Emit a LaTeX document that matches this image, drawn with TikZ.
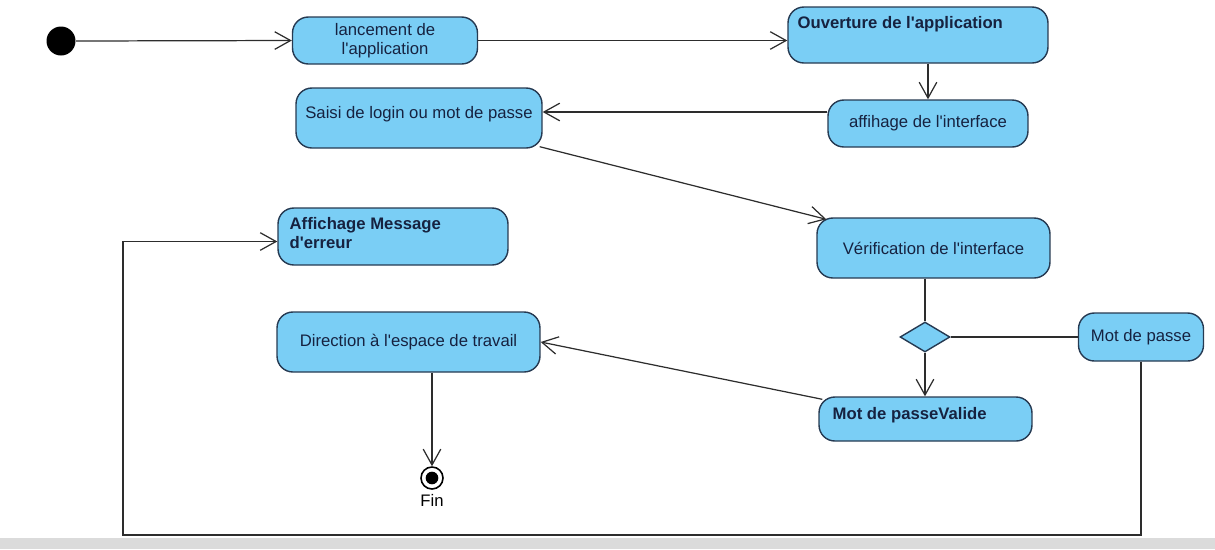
\documentclass[tikz,border=0pt]{standalone}
\usepackage{fontspec}
\setmainfont{Liberation Sans}
\usetikzlibrary{arrows.meta, positioning, calc, shapes.geometric}
\definecolor{boxblue}{RGB}{122,206,245}
\definecolor{boxline}{RGB}{38,58,82}
\definecolor{boxtext}{RGB}{22,34,64}
\definecolor{flowline}{RGB}{45,45,45}
\newcommand{\apos}{\textquotesingle}

\begin{document}
\begin{tikzpicture}[x=0.02cm, y=-0.02cm,
  actbox/.style={draw=boxline, fill=boxblue, line width=0.8pt, rounded corners=9pt, align=center, text=boxtext, font=\fontsize{9.5}{10.5}\selectfont, inner sep=0pt},
  boxtitle/.style={anchor=north west, inner sep=0pt, align=left, text=boxtext, font=\fontsize{9.5}{10.5}\selectfont\bfseries},
  flow/.style={draw=flowline, line width=0.7pt, -{Straight Barb[length=9pt, width=10pt]}},
  plain/.style={draw=flowline, line width=0.7pt}
]
\useasboundingbox (0,0) rectangle (1215,549);
\fill[gray!28] (0,538) rectangle (1215,549);

% noeuds
\node[circle, fill=black, minimum size=0.58cm, inner sep=0pt] (init) at (61,41) {};
\node[actbox, minimum width=3.7cm, minimum height=0.94cm] (lanc) at (385,40.5) {lancement de\\l\apos application};
\node[actbox, minimum width=5.2cm, minimum height=1.12cm,
  label={[boxtitle, xshift=0.2cm, yshift=-0.2cm]north west:Ouverture de l\apos application}] (ouv) at (918,35) {};
\node[actbox, minimum width=4cm, minimum height=0.94cm] (aff) at (928,123.5) {affihage de l\apos interface};
\node[actbox, minimum width=4.92cm, minimum height=1.2cm,
  label={[boxtitle, anchor=north, font=\fontsize{9.5}{10.5}\selectfont, yshift=-0.38cm]north:Saisi de login ou mot de passe}] (saisi) at (419,118) {};
\node[actbox, minimum width=4.6cm, minimum height=1.14cm,
  label={[boxtitle, xshift=0.24cm, yshift=-0.2cm]north west:Affichage Message\\d\apos erreur}] (err) at (393,236.5) {};
\node[actbox, minimum width=4.66cm, minimum height=1.2cm] (verif) at (933.5,248) {Vérification de l\apos interface};
\node[diamond, draw=boxline, fill=boxblue, line width=0.8pt, minimum width=1cm, minimum height=0.6cm, inner sep=0pt] (dec) at (925,337) {};
\node[actbox, minimum width=2.5cm, minimum height=0.96cm] (mdp) at (1141,337) {Mot de passe};
\node[actbox, minimum width=4.26cm, minimum height=0.88cm,
  label={[boxtitle, xshift=0.28cm, yshift=-0.22cm]north west:Mot de passeValide}] (valide) at (925.5,419) {};
\node[actbox, minimum width=5.26cm, minimum height=1.2cm] (dir) at (408.5,342) {Direction à l\apos espace de travail};
\node[circle, draw=black, line width=0.9pt, minimum size=0.44cm, inner sep=0pt,
  path picture={\fill (path picture bounding box.center) circle (3.6pt);},
  label={[font=\fontsize{9.5}{10.5}\selectfont, label distance=-1pt]below:Fin}] (fin) at (432,478) {};
\coordinate (boucle) at (123,535);

% transitions
\draw[flow] (init.east) -- (lanc.west);
\draw[flow] (lanc.east) -- (lanc.east -| ouv.west);
\draw[flow] (aff.north |- ouv.south) -- (aff.north);
\draw[flow] (aff.west |- 0,112) -- (saisi.east |- 0,112);
\draw[flow] ($(saisi.south east)+(-3,-2)$) -- ($(verif.north west)+(10,2)$);
\draw[plain] (dec.north |- verif.south) -- (dec.north);
\draw[plain] (dec.east) -- (mdp.west);
\draw[flow] (dec.south) -- (valide.north -| dec.south);
\draw[flow] ($(valide.north west)+(4,3)$) -- (dir.east);
\draw[flow] (fin.north |- dir.south) -- (fin.north);
\draw[flow] (mdp.south) |- (boucle) |- ($(err.west)+(0,5)$);
\end{tikzpicture}
\end{document}
